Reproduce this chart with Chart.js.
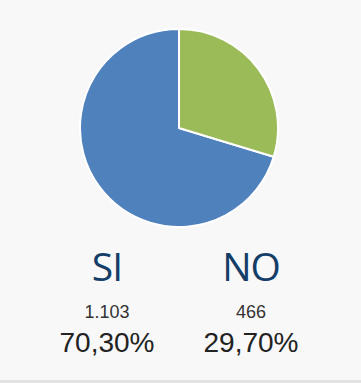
<!DOCTYPE html>
<html>
<head>
<meta charset="utf-8">
<script src="https://cdn.jsdelivr.net/npm/chart.js@4/dist/chart.umd.min.js"></script>
<style>
  html, body { margin: 0; padding: 0; }
  body { width: 361px; height: 383px; background: #f8f8f8; position: relative; overflow: hidden; }
  #pieBox { position: absolute; left: 79px; top: 28px; width: 200px; height: 200px; }
  .col { position: absolute; width: 144px; text-align: center; }
  .lbl { font-family: "Open Sans", sans-serif; font-size: 39px; line-height: 1; color: #143d68; top: 246px; letter-spacing: -1px; }
  .cnt { font-family: "Liberation Sans", Arial, sans-serif; font-size: 18px; line-height: 1; color: #333; top: 303px; }
  .pct { font-family: "Liberation Sans", Arial, sans-serif; font-size: 28px; line-height: 1; color: #222; top: 329px; }
  #bottomLine { position: absolute; left: 0; top: 380px; width: 361px; height: 3px; background: #e2e2e2; }
</style>
</head>
<body>
<div id="pieBox"><canvas id="pieChart"></canvas></div>
<div id="texts"></div>
<div id="bottomLine"></div>
<script>
const labels = ['SI', 'NO'];
const counts = [1103, 466];
const percents = ['70,30%', '29,70%'];
const countLabels = ['1.103', '466'];
const colors = ['#4f81bd', '#9bbb59'];

const total = counts.reduce((a, b) => a + b, 0);

const ctx = document.getElementById('pieChart').getContext('2d');
new Chart(ctx, {
  type: 'pie',
  data: {
    labels: labels,
    datasets: [{
      data: counts,
      backgroundColor: colors,
      borderColor: '#ffffff',
      borderWidth: 2
    }]
  },
  options: {
    responsive: true,
    maintainAspectRatio: false,
    animation: false,
    rotation: 360 * counts[1] / total,
    layout: { padding: 0 },
    plugins: { legend: { display: false }, tooltip: { enabled: false } }
  }
});

// labels under the pie, one column per category
const centers = [107, 251];
const box = document.getElementById('texts');
labels.forEach((l, i) => {
  [['lbl', l], ['cnt', countLabels[i]], ['pct', percents[i]]].forEach(([cls, txt]) => {
    const d = document.createElement('div');
    d.className = 'col ' + cls;
    d.style.left = (centers[i] - 72) + 'px';
    d.textContent = txt;
    box.appendChild(d);
  });
});
</script>
</body>
</html>
